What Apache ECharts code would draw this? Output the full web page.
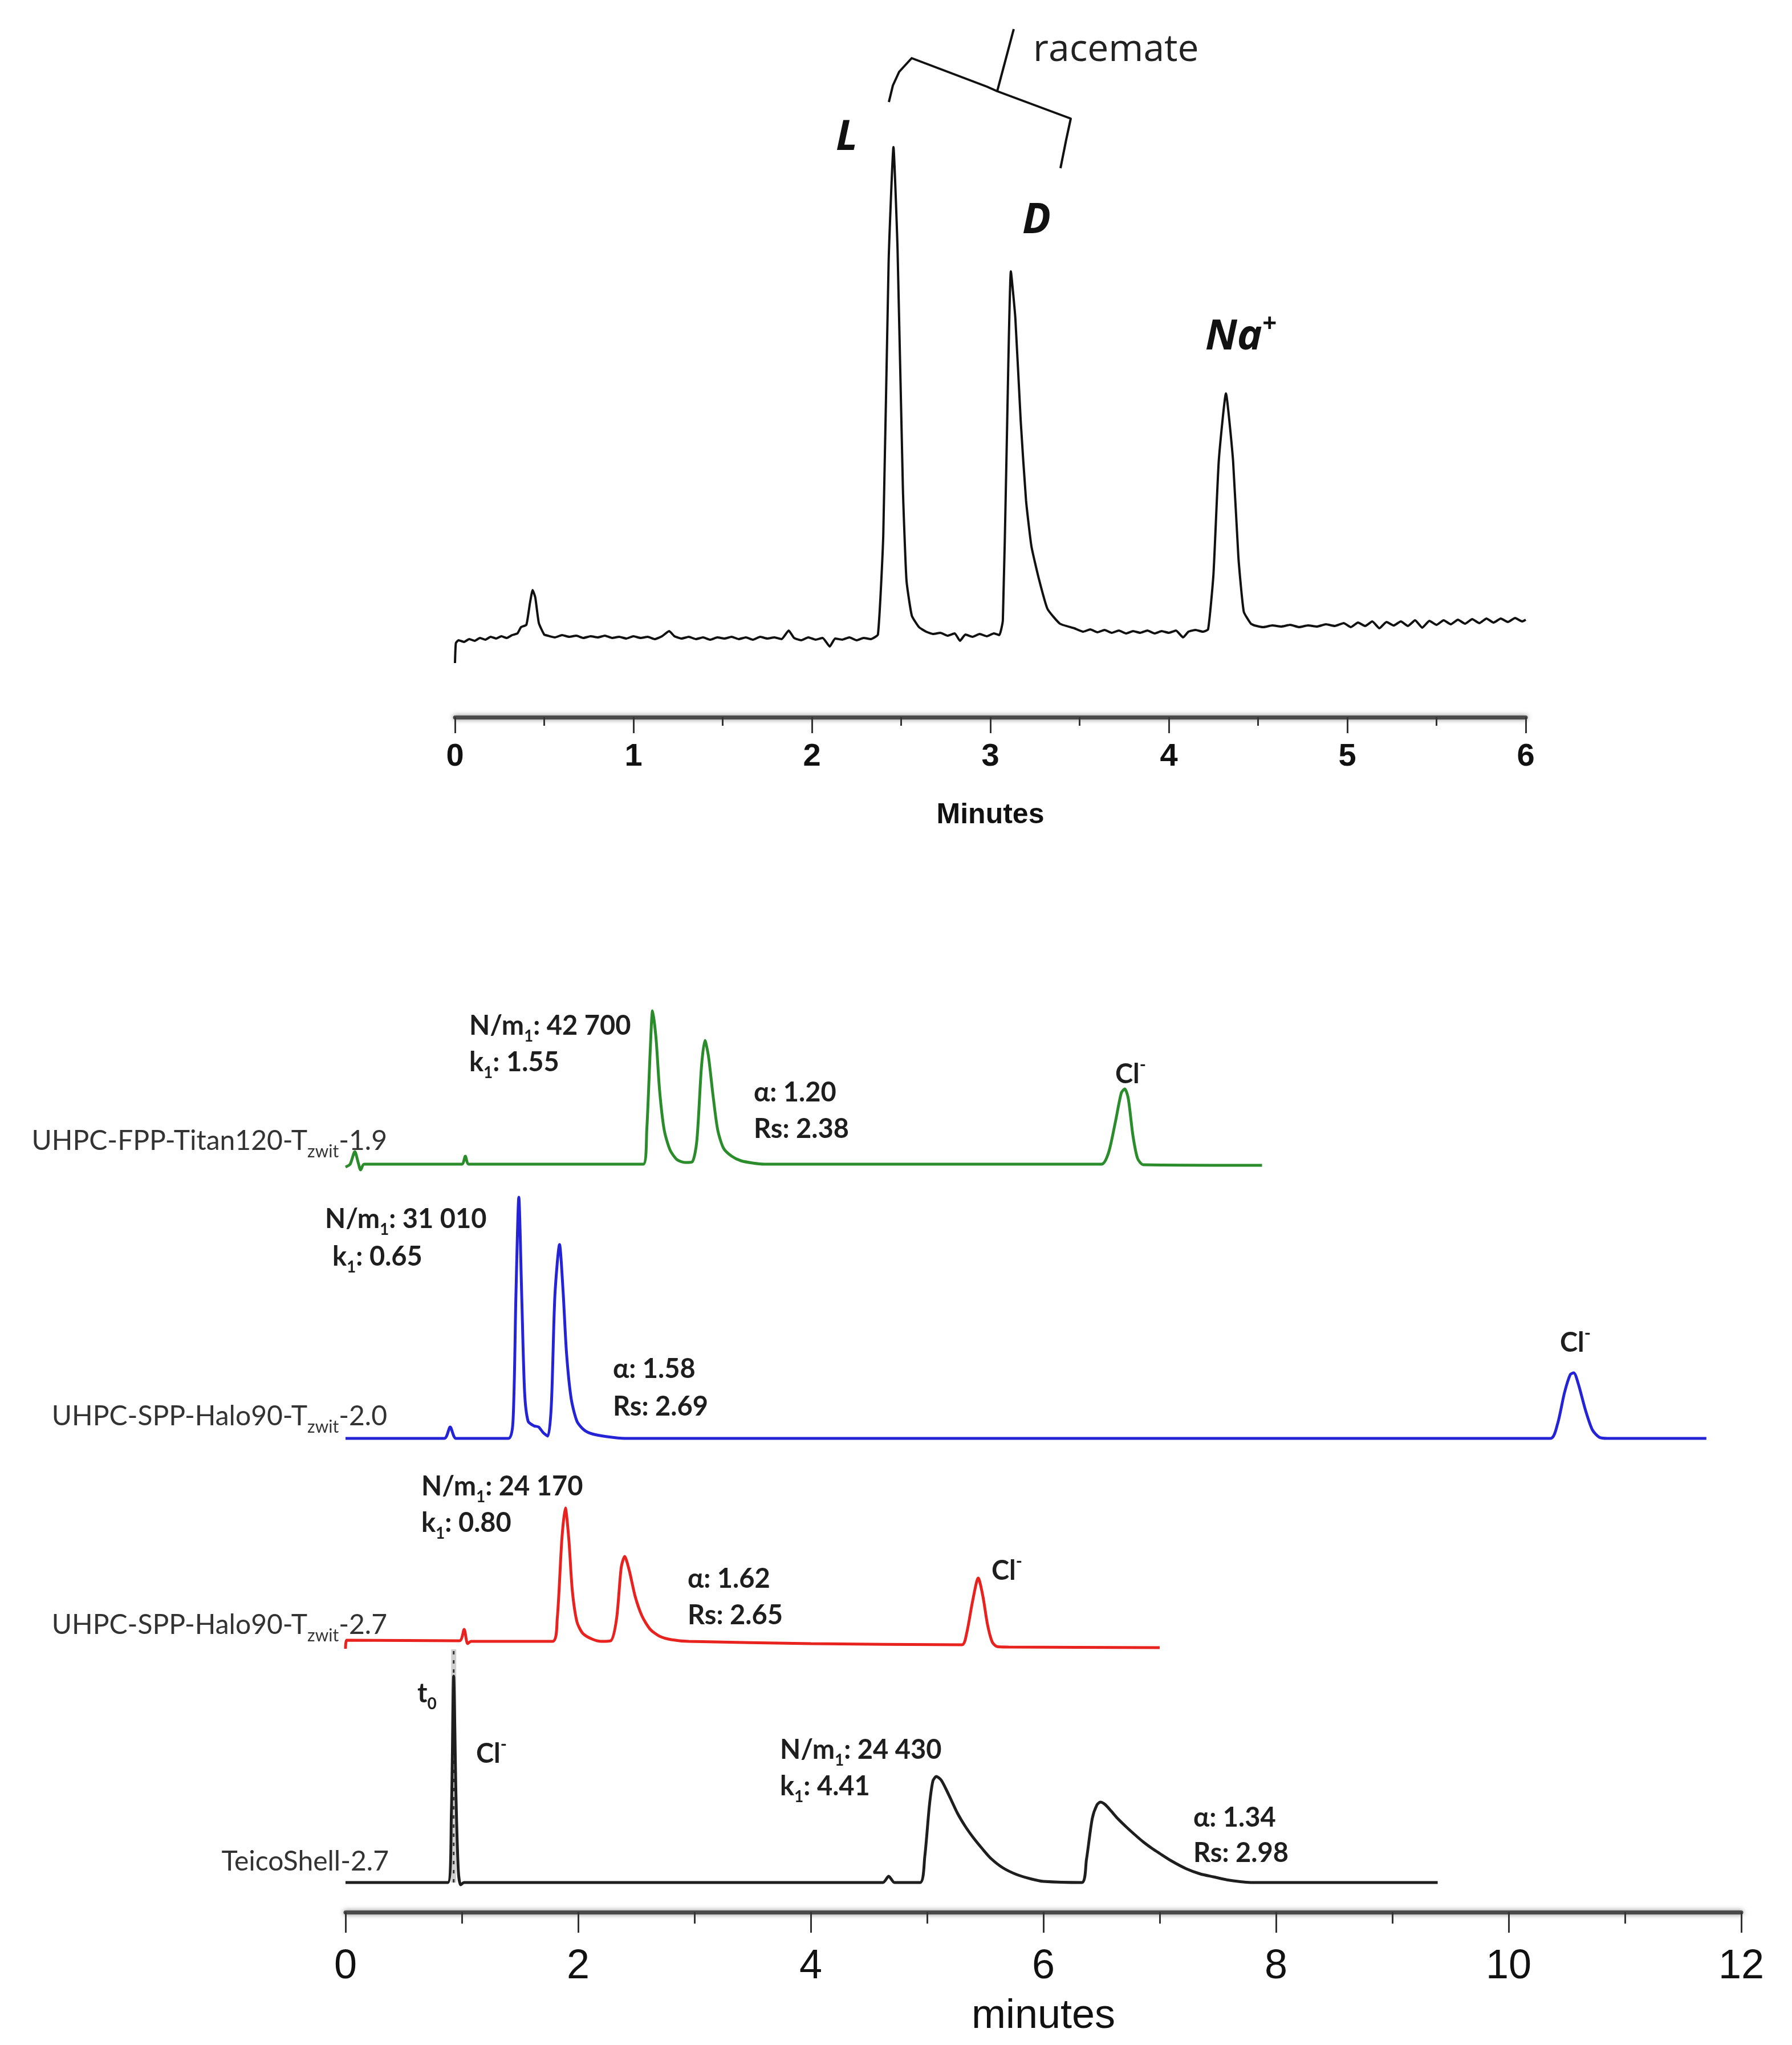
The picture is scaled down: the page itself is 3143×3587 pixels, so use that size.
<!DOCTYPE html>
<html>
<head>
<meta charset="utf-8">
<title>Chromatograms</title>
<script src="https://cdn.jsdelivr.net/npm/echarts@6/dist/echarts.min.js"></script>
<style>
  html, body { margin: 0; padding: 0; background: #fff; }
  #chart { width: 3143px; height: 3587px; }
</style>
</head>
<body>
<div id="chart"></div>
<script>
// ---- top panel: racemate run, [minutes, signal]
const racemateTrace = [
  [0.00, 95], [0.005, 130], [0.02, 135], [0.05, 132], [0.08, 137], [0.11, 134], [0.14, 139], [0.17, 136],
  [0.20, 141], [0.23, 138], [0.26, 142], [0.29, 139], [0.32, 144], [0.35, 147], [0.37, 158], [0.40, 162],
  [0.42, 200], [0.435, 223], [0.45, 210], [0.47, 165], [0.50, 145],
  [0.52, 143], [0.56, 140], [0.60, 144], [0.64, 141], [0.68, 143], [0.72, 139], [0.76, 142], [0.80, 140],
  [0.84, 143], [0.88, 139], [0.92, 141], [0.96, 138], [1.00, 142], [1.04, 139], [1.08, 141], [1.12, 137],
  [1.16, 142], [1.20, 151], [1.23, 142], [1.27, 138], [1.31, 141], [1.35, 137], [1.39, 140], [1.43, 136],
  [1.47, 140], [1.51, 138], [1.55, 141], [1.59, 137], [1.63, 140], [1.67, 136], [1.71, 141], [1.75, 138],
  [1.79, 140], [1.83, 137], [1.87, 152], [1.90, 139], [1.94, 135], [1.98, 140], [2.02, 136], [2.06, 139],
  [2.10, 124], [2.13, 138], [2.17, 136], [2.21, 140], [2.25, 135], [2.29, 139], [2.33, 137],
  [2.37, 145], [2.40, 320], [2.43, 800], [2.457, 1000], [2.48, 820], [2.51, 400], [2.53, 240], [2.56, 178],
  [2.60, 158], [2.64, 150], [2.68, 146], [2.72, 148], [2.76, 143], [2.80, 147], [2.83, 134], [2.86, 145],
  [2.90, 141], [2.94, 146], [2.98, 142], [3.02, 147], [3.05, 144],
  [3.07, 170], [3.09, 450], [3.115, 782], [3.14, 700], [3.17, 520], [3.20, 380], [3.23, 300],
  [3.27, 245], [3.32, 190], [3.39, 164], [3.47, 156],
  [3.52, 150], [3.56, 154], [3.60, 149], [3.64, 153], [3.68, 148], [3.72, 152], [3.76, 147], [3.80, 151],
  [3.84, 148], [3.88, 152], [3.92, 147], [3.96, 151], [4.00, 148], [4.04, 152], [4.08, 140], [4.11, 150],
  [4.15, 153], [4.19, 150],
  [4.22, 154], [4.25, 250], [4.28, 450], [4.32, 568], [4.36, 450], [4.39, 280], [4.42, 185], [4.46, 164],
  [4.48, 161], [4.53, 158], [4.58, 161], [4.63, 159], [4.68, 162], [4.73, 158], [4.78, 161], [4.83, 159],
  [4.88, 163], [4.93, 160], [4.98, 165], [5.02, 158], [5.06, 166], [5.10, 160], [5.14, 168], [5.18, 156],
  [5.22, 167], [5.26, 161], [5.30, 168], [5.34, 160], [5.38, 170], [5.42, 157], [5.46, 169], [5.50, 162],
  [5.54, 170], [5.58, 163], [5.62, 171], [5.66, 164], [5.70, 172], [5.74, 165], [5.78, 173], [5.82, 166],
  [5.86, 173], [5.90, 167], [5.94, 174], [5.98, 168], [6.00, 171]
]
const topTicks = [0, 1, 2, 3, 4, 5, 6]
const topPeakNames = ['L', 'D', 'Na^{+}']

// ---- bottom panel: four columns, signal above each trace's own baseline
const titanTrace = [
  [0.00, -5], [0.04, 0], [0.08, 22], [0.11, 2], [0.13, -10], [0.16, 0], [1.00, 0], [1.03, 14], [1.06, 0],
  [2.56, 0], [2.59, 60], [2.62, 200], [2.64, 269], [2.67, 220], [2.70, 130], [2.74, 60], [2.79, 25],
  [2.85, 8], [2.92, 3], [2.98, 4], [3.02, 40], [3.06, 170], [3.09, 217], [3.12, 190], [3.16, 120],
  [3.20, 60], [3.25, 28], [3.32, 14], [3.40, 6], [3.50, 2], [3.60, 0],
  [6.50, 0], [6.56, 20], [6.62, 75], [6.67, 125], [6.70, 132], [6.73, 115], [6.77, 50], [6.81, 10],
  [6.86, -1], [7.88, -2]
]
const halo20Trace = [
  [0.00, 0], [0.85, 0], [0.90, 20], [0.95, 0], [1.40, 0], [1.44, 30], [1.465, 250], [1.49, 423],
  [1.515, 250], [1.54, 80], [1.57, 30], [1.62, 22], [1.66, 20], [1.70, 10], [1.74, 4], [1.77, 60],
  [1.80, 250], [1.84, 340], [1.87, 260], [1.90, 150], [1.94, 70], [1.99, 30], [2.05, 15], [2.12, 8],
  [2.25, 3], [2.40, 0], [10.36, 0], [10.42, 25], [10.48, 80], [10.53, 112], [10.56, 115], [10.60, 95],
  [10.66, 50], [10.72, 15], [10.78, 2], [10.85, 0], [11.70, 0]
]
const halo27Trace = [
  [0.00, -12], [0.01, 3], [0.98, 2], [1.02, 22], [1.05, -3], [1.08, 1], [1.78, 1], [1.82, 40],
  [1.86, 180], [1.89, 235], [1.92, 180], [1.95, 90], [1.99, 35], [2.04, 15], [2.12, 5], [2.20, 1],
  [2.28, 2], [2.33, 40], [2.37, 130], [2.40, 150], [2.44, 125], [2.49, 80], [2.55, 45], [2.62, 22],
  [2.70, 10], [2.80, 4], [2.95, 1], [4.00, -3], [5.30, -5], [5.34, 15], [5.39, 70], [5.44, 112],
  [5.48, 80], [5.52, 30], [5.56, 0], [5.60, -8], [5.70, -9], [7.00, -10]
]
const teicoTrace = [
  [0.00, 0], [0.88, 0], [0.91, 120], [0.93, 362], [0.95, 150], [0.97, 20], [0.99, -4], [1.02, 0],
  [4.62, 0], [4.67, 11], [4.72, 0], [4.94, 0], [4.98, 45], [5.02, 135], [5.05, 178], [5.08, 186],
  [5.12, 180], [5.16, 165], [5.20, 148], [5.26, 122], [5.33, 98], [5.40, 78], [5.48, 58], [5.55, 42],
  [5.65, 26], [5.77, 14], [5.90, 6], [6.00, 2], [6.33, 0], [6.37, 40], [6.42, 112], [6.46, 136],
  [6.49, 141], [6.53, 137], [6.58, 126], [6.64, 112], [6.71, 98], [6.78, 85], [6.86, 71], [6.94, 59],
  [7.00, 51], [7.10, 38], [7.23, 24], [7.35, 15], [7.46, 10], [7.60, 4], [7.80, 0], [9.39, 0]
]
const deadTimeMarker = [[0.93, 0], [0.93, 409]]
const bottomTicks = [0, 2, 4, 6, 8, 10, 12]

const columnNames = ['UHPC-FPP-Titan120-T_{zwit}-1.9', 'UHPC-SPP-Halo90-T_{zwit}-2.0', 'UHPC-SPP-Halo90-T_{zwit}-2.7', 'TeicoShell-2.7']
const plateCounts = ['42 700', '31 010', '24 170', '24 430']
const retentionK1 = ['1.55', '0.65', '0.80', '4.41']
const selectivity = ['1.20', '1.58', '1.62', '1.34']
const resolution = ['2.38', '2.69', '2.65', '2.98']

// ---- layout / style
const traceColors = ['#2b8c2b', '#2424d6', '#e8231f', '#1e1e1e']
const traceOffsets = [1312, 831, 474, 52]
const traces = [titanTrace, halo20Trace, halo27Trace, teicoTrace]
// [x, y] pixel anchors: name(right), N/m, k1, alpha, Rs, Cl
const spots = [
  { name: [679, 2002], n: [823, 1800], k: [823, 1864], a: [1322, 1917], rs: [1322, 1981], cl: [1956, 1885] },
  { name: [679, 2485], n: [570, 2139], k: [583, 2205], a: [1075, 2402], rs: [1075, 2468], cl: [2736, 2356] },
  { name: [679, 2851], n: [739, 2608], k: [739, 2672], a: [1206, 2770], rs: [1206, 2834], cl: [1739, 2756] },
  { name: [682, 3266], n: [1368, 3070], k: [1368, 3134], a: [2093, 3189], rs: [2093, 3251], cl: [835, 3077] }
]

const annFont = 'Lato, "Open Sans", sans-serif'
const richStyles = {
  b: { fontFamily: annFont, fontWeight: 'bold', fontSize: 47, lineHeight: 64, fill: '#1e1e1e' },
  bs: { fontFamily: annFont, fontWeight: 'bold', fontSize: 28, lineHeight: 30, verticalAlign: 'bottom', fill: '#1e1e1e' },
  bp: { fontFamily: annFont, fontWeight: 'bold', fontSize: 30, lineHeight: 30, verticalAlign: 'top', fill: '#1e1e1e' },
  r: { fontFamily: annFont, fontSize: 48, lineHeight: 66, fill: '#333' },
  rs: { fontFamily: annFont, fontSize: 30, lineHeight: 30, verticalAlign: 'bottom', fill: '#333' },
  rp: { fontFamily: annFont, fontSize: 30, lineHeight: 30, verticalAlign: 'top', fill: '#333' },
  pk: { fontFamily: '"Open Sans", sans-serif', fontWeight: 'bold', fontStyle: 'italic', fontSize: 74, lineHeight: 90, fill: '#111' },
  pkp: { fontFamily: '"Open Sans", sans-serif', fontWeight: 'bold', fontStyle: 'italic', fontSize: 44, lineHeight: 44, verticalAlign: 'top', fill: '#111' }
}

function toRich(s, base) {
  return s.replace(/([^_^]+)|_\{([^}]*)\}|\^\{([^}]*)\}/g, function (m, a, sub, sup) {
    if (a) return '{' + base + '|' + a + '}'
    if (sub) return '{' + base + 's|' + sub + '}'
    return '{' + (base === 'pk' ? 'pkp' : base + 'p') + '|' + sup + '}'
  })
}

function label(text, pos, base, align) {
  return {
    type: 'text',
    x: pos[0],
    y: pos[1],
    z: 50,
    style: {
      text: toRich(text, base),
      rich: richStyles,
      align: align || 'left',
      verticalAlign: 'middle'
    }
  }
}

const graphics = []
traces.forEach(function (tr, i) {
  const s = spots[i]
  graphics.push(label(columnNames[i], s.name, 'r', 'right'))
  graphics.push(label('N/m_{1}: ' + plateCounts[i], s.n, 'b'))
  graphics.push(label('k_{1}: ' + retentionK1[i], s.k, 'b'))
  graphics.push(label('α: ' + selectivity[i], s.a, 'b'))
  graphics.push(label('Rs: ' + resolution[i], s.rs, 'b'))
  graphics.push(label('Cl^{-}', s.cl, 'b'))
})
graphics.push(label('t_{0}', [732, 2971], 'b'))

// top peak labels and racemate brace
graphics.push(label(topPeakNames[0], [1466, 242], 'pk'))
graphics.push(label(topPeakNames[1], [1793, 388], 'pk'))
graphics.push(label(topPeakNames[2], [2114, 592], 'pk'))
graphics.push({
  type: 'text', x: 1812, y: 88, z: 50,
  style: { text: 'racemate', fontFamily: '"Open Sans", sans-serif', fontSize: 66, fill: '#222', verticalAlign: 'middle' }
})
const braceStyle = { stroke: '#111', lineWidth: 4, fill: null, lineJoin: 'round' }
graphics.push({ type: 'polyline', z: 50, shape: { points: [[1559, 179], [1566, 150], [1577, 126], [1599, 102], [1731, 152], [1749, 160]] }, style: braceStyle })
graphics.push({ type: 'polyline', z: 50, shape: { points: [[1778, 51], [1749, 160], [1878, 208], [1870, 245], [1860, 295]] }, style: braceStyle })

function axisCommon(ticks, o) {
  return {
    type: 'value',
    gridIndex: o.grid,
    min: ticks[0],
    max: ticks[ticks.length - 1],
    interval: ticks[1] - ticks[0],
    axisLine: { onZero: false, lineStyle: { color: '#4a4a4a', width: 7, shadowColor: 'rgba(0,0,0,0.5)', shadowBlur: 8 } },
    axisTick: { length: o.tick, lineStyle: { color: '#333', width: 3 } },
    minorTick: { show: true, splitNumber: 2, length: o.minor, lineStyle: { color: '#333', width: 3 } },
    splitLine: { show: false },
    minorSplitLine: { show: false },
    axisLabel: { margin: o.margin, fontSize: o.font, fontWeight: o.weight, fontFamily: '"Liberation Sans", Arial, sans-serif', color: '#111' },
    name: o.name,
    nameLocation: 'middle',
    nameGap: o.nameGap,
    nameTextStyle: { fontSize: o.nameFont, fontWeight: o.weight, fontFamily: '"Liberation Sans", Arial, sans-serif', color: '#111' }
  }
}

function lineSeries(data, color, width, axis, extra) {
  return Object.assign({
    type: 'line',
    xAxisIndex: axis,
    yAxisIndex: axis,
    data: data,
    showSymbol: false,
    symbol: 'none',
    smooth: 0.25,
    lineStyle: { color: color, width: width },
    silent: true,
    animation: false
  }, extra || {})
}

const series = [lineSeries(racemateTrace, '#111', 4, 0, { smooth: 0.15 })]
const markerData = deadTimeMarker.map(function (p) { return [p[0], p[1] + traceOffsets[3]] })
series.push(lineSeries(markerData, '#cfcfcf', 9, 1, { smooth: false }))
series.push(lineSeries(markerData, '#333', 3, 1, { smooth: false, lineStyle: { color: '#333', width: 3, type: [6, 10] } }))
traces.forEach(function (tr, i) {
  const shifted = tr.map(function (p) { return [p[0], p[1] + traceOffsets[i]] })
  series.push(lineSeries(shifted, traceColors[i], 5, 1))
})

const chart = echarts.init(document.getElementById('chart'), null, { renderer: 'canvas' })
chart.setOption({
  backgroundColor: '#fff',
  animation: false,
  grid: [
    { left: 798, width: 1878, top: 0, height: 1258, outerBoundsMode: 'none' },
    { left: 606, width: 2448, top: 1650, height: 1704, outerBoundsMode: 'none' }
  ],
  xAxis: [
    axisCommon(topTicks, { grid: 0, tick: 28, minor: 15, margin: 42, font: 56, weight: 'bold', name: 'Minutes', nameGap: 147, nameFont: 50 }),
    axisCommon(bottomTicks, { grid: 1, tick: 36, minor: 20, margin: 60, font: 72, weight: 'normal', name: 'minutes', nameGap: 147, nameFont: 72 })
  ],
  yAxis: [
    { type: 'value', gridIndex: 0, min: 0, max: 1258, show: false },
    { type: 'value', gridIndex: 1, min: 0, max: 1704, show: false }
  ],
  series: series,
  graphic: graphics
})
</script>
</body>
</html>
